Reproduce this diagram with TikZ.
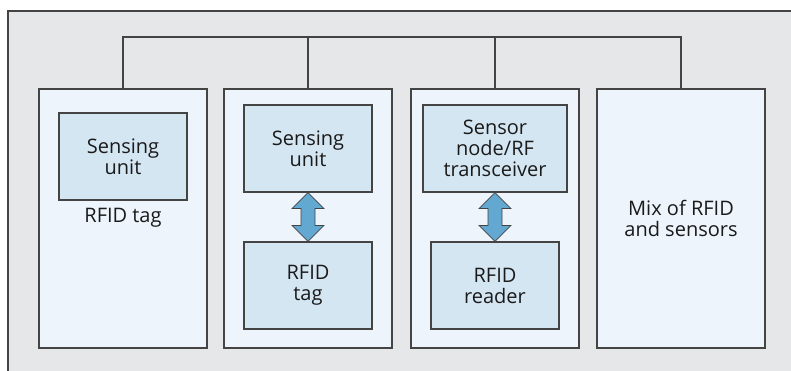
\documentclass[tikz,border=0pt]{standalone}
\usepackage{fontspec}
\setmainfont{Open Sans}
\usetikzlibrary{calc,positioning}
\definecolor{framegray}{HTML}{E6E7E8}
\definecolor{colfill}{HTML}{EDF4FB}
\definecolor{unitfill}{HTML}{D5E6F3}
\definecolor{arrowblue}{HTML}{62A8D0}
\definecolor{linegray}{HTML}{444444}
\definecolor{textblack}{HTML}{1A1A1A}
\begin{document}
\begin{tikzpicture}[x=1pt, y=-1pt,
	column/.style={draw=linegray, line width=1.2pt, fill=colfill, minimum width=168pt, minimum height=259pt, inner sep=0pt},
	unit/.style={draw=linegray, line width=1.2pt, fill=unitfill, minimum height=87pt, align=center, inner sep=0pt},
	bothway/.style={draw=linegray, line width=0.8pt, fill=arrowblue},
	every node/.style={font=\fontsize{20}{21}\selectfont, text=textblack}]
	\useasboundingbox (0,0) rectangle (791,371);
	\clip (0,0) rectangle (791,371);
	% outer frame
	\fill[framegray] (8,11) rectangle (800,380);
	\draw[linegray, line width=1.2pt] (8,380) -- (8,11) -- (800,11);

	% four columns
	\node[column] at (123,218.5) (c1) {};
	\node[column] at (308,218.5) (c2) {};
	\node[column] at (495,218.5) (c3) {};
	\node[column, align=center] at (681,218.5) (c4) {Mix of RFID\\and sensors};

	% bus on top
	\coordinate (bus) at (0,37);
	\draw[linegray, line width=1.2pt] (c1.north) -- (c1.north |- bus) -- (c4.north |- bus) -- (c4.north);
	\foreach \i in {2,3}{
		\draw[linegray, line width=1.2pt] (c\i.north) -- (c\i.north |- bus);
	}

	% column 1
	\node[unit, minimum width=128pt] at (123,156.5) (s1) {Sensing\\unit};
	\node at (123,218) (l1) {RFID tag};

	% column 2
	\node[unit, minimum width=128pt] at (308,148.5) (s2) {Sensing\\unit};
	\node[unit, minimum width=128pt] at (308,285.5) (t2) {RFID\\tag};

	% column 3
	\node[unit, minimum width=144pt] at (495,148.5) (s3) {Sensor\\node/RF\\transceiver};
	\node[unit, minimum width=128pt] at (495,285.5) (r3) {RFID\\reader};

	% double arrows
	\foreach \a/\b in {s2/t2, s3/r3}{
		\draw[bothway] (\a.south) -- ($(\a.south)+(16,16)$) -- ($(\a.south)+(7,16)$)
			-- ($(\b.north)+(7,-16)$) -- ($(\b.north)+(16,-16)$) -- (\b.north)
			-- ($(\b.north)+(-16,-16)$) -- ($(\b.north)+(-7,-16)$)
			-- ($(\a.south)+(-7,16)$) -- ($(\a.south)+(-16,16)$) -- cycle;
	}
\end{tikzpicture}
\end{document}
